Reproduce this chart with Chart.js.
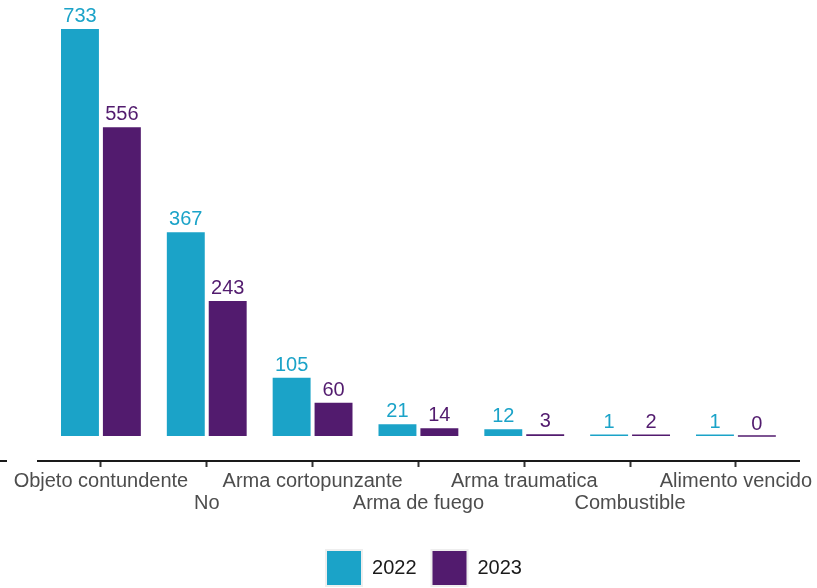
<!DOCTYPE html>
<html>
<head>
<meta charset="utf-8">
<script src="https://cdn.jsdelivr.net/npm/chart.js@4/dist/chart.umd.min.js"></script>
<style>
  html, body { margin: 0; padding: 0; background: #ffffff; }
  #wrap { width: 817px; height: 588px; }
</style>
</head>
<body>
<div id="wrap"><canvas id="chartCanvas" width="817" height="588"></canvas></div>
<script>
// categories, odd ones go on the second row
const categories = ["Objeto contundente", "No", "Arma cortopunzante", "Arma de fuego", "Arma traumatica", "Combustible", "Alimento vencido"];
const years = ["2022", "2023"];
const values2022 = [733, 367, 105, 21, 12, 1, 1];
const values2023 = [556, 243, 60, 14, 3, 2, 0];
const colors = ["#1ba3c8", "#521b6e"];

const FONT = "'Liberation Sans', Arial, sans-serif";

let labels = categories.map((c, i) => (i % 2 == 1 ? ["", c] : c));

// axis line runs a bit past the plot, like the original
const axisLinePlugin = {
    id: "axisLine",
    afterDraw: (chart) => {
        let ctx = chart.ctx;
        let y = chart.chartArea.bottom;
        ctx.save();
        ctx.strokeStyle = "#1a1a1a";
        ctx.lineWidth = 2;
        ctx.beginPath();
        ctx.moveTo(0, y);
        ctx.lineTo(7, y);
        ctx.moveTo(37, y);
        ctx.lineTo(800, y);
        ctx.stroke();
        ctx.restore();
    }
};

// legend sits a little right of the canvas centre
const legendShiftPlugin = {
    id: "legendShift",
    afterLayout: (chart) => {
        chart.legend.left += 5;
        chart.legend.right += 5;
    }
};

const valueLabelPlugin = {
    id: "valueLabels",
    afterDatasetsDraw: (chart) => {
        let ctx = chart.ctx;
        ctx.save();
        ctx.font = "20px " + FONT;
        ctx.textAlign = "center";
        ctx.textBaseline = "alphabetic";
        chart.data.datasets.forEach((ds, i) => {
            let meta = chart.getDatasetMeta(i);
            ctx.fillStyle = ds.backgroundColor;
            meta.data.forEach((bar, j) => {
                ctx.fillText(ds.data[j], bar.x, bar.y - 7);
            });
        });
        ctx.restore();
    }
};

let chart = new Chart(document.getElementById("chartCanvas"), {
    type: "bar",
    data: {
        labels: labels,
        datasets: [
            { label: years[0], data: values2022, backgroundColor: colors[0], minBarLength: 1.5 },
            { label: years[1], data: values2023, backgroundColor: colors[1], minBarLength: 1.5 }
        ]
    },
    options: {
        responsive: false,
        animation: false,
        devicePixelRatio: 1,
        layout: { padding: { left: 48, right: 27, top: 0, bottom: -8 } },
        datasets: {
            bar: { categoryPercentage: 0.792, barPercentage: 0.905 }
        },
        scales: {
            x: {
                offset: true,
                border: { display: false },
                grid: {
                    offset: false,
                    drawOnChartArea: false,
                    drawTicks: true,
                    tickLength: 6,
                    tickWidth: 2,
                    tickColor: "#333333"
                },
                ticks: {
                    autoSkip: false,
                    maxRotation: 0,
                    minRotation: 0,
                    padding: 3,
                    color: "#4d4d4d",
                    font: { size: 20, family: FONT, lineHeight: 1.125 }
                },
                afterFit: (scale) => { scale.height = 74; }
            },
            y: {
                display: false,
                min: -45,
                max: 785
            }
        },
        plugins: {
            tooltip: { enabled: false },
            legend: {
                position: "bottom",
                labels: {
                    boxWidth: 36,
                    boxHeight: 36,
                    padding: 15,
                    color: "#1a1a1a",
                    font: { size: 20, family: FONT },
                    generateLabels: (ch) => ch.data.datasets.map((ds, i) => ({
                        text: ds.label,
                        fillStyle: ds.backgroundColor,
                        strokeStyle: "#eeeeee",
                        lineWidth: 2,
                        fontColor: "#1a1a1a",
                        hidden: false,
                        datasetIndex: i
                    }))
                }
            }
        }
    },
    plugins: [axisLinePlugin, valueLabelPlugin, legendShiftPlugin]
});
</script>
</body>
</html>
